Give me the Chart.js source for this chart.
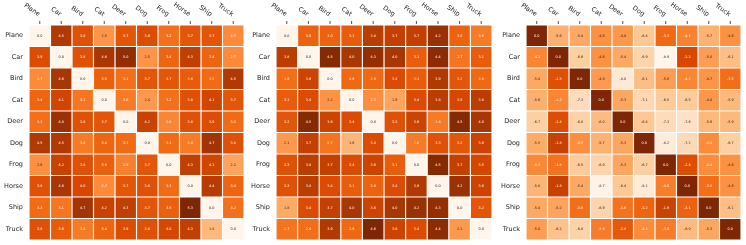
<!DOCTYPE html>
<html>
<head>
<meta charset="utf-8">
<script src="https://cdn.jsdelivr.net/npm/chart.js@4/dist/chart.umd.min.js"></script>
<style>
  body { margin: 0; background: #fff; }
  .wrap { position: absolute; top: 0; height: 245px; }
</style>
</head>
<body>
<div class="wrap" style="left:0;width:248px"><canvas id="heat1"></canvas></div>
<div class="wrap" style="left:248px;width:248px"><canvas id="heat2"></canvas></div>
<div class="wrap" style="left:496px;width:250px"><canvas id="heat3"></canvas></div>
<script>
var classes = ["Plane", "Car", "Bird", "Cat", "Deer", "Dog", "Frog", "Horse", "Ship", "Truck"];

// rows = source class, columns = target class
var heat1Values = [
  [0.0, 4.5, 3.8, 2.5, 3.7, 3.9, 3.2, 3.7, 3.7, 2.7],
  [3.9, 0.0, 3.8, 4.6, 5.0, 2.5, 3.4, 4.3, 3.4, 2.7],
  [2.7, 4.6, 0.0, 3.5, 3.2, 3.7, 3.7, 3.6, 3.3, 4.5],
  [3.4, 4.1, 3.1, 0.0, 3.0, 2.4, 3.2, 3.8, 4.1, 3.7],
  [3.2, 4.8, 3.8, 3.7, 0.0, 4.2, 2.8, 3.8, 3.9, 3.3],
  [4.5, 4.5, 3.0, 3.4, 3.3, 0.0, 3.3, 3.0, 4.7, 3.8],
  [2.6, 4.2, 3.8, 3.5, 2.9, 3.7, 0.0, 4.3, 4.1, 2.2],
  [3.8, 4.6, 4.0, 2.7, 3.7, 3.8, 3.3, 0.0, 4.4, 3.4],
  [3.3, 3.1, 4.7, 4.2, 4.3, 3.7, 3.5, 5.3, 0.0, 3.2],
  [3.8, 3.6, 3.0, 3.4, 3.9, 3.8, 4.0, 4.3, 1.8, 0.0]
];

var heat2Values = [
  [0.0, 3.0, 3.0, 3.1, 3.8, 3.7, 3.7, 4.2, 3.0, 2.6],
  [3.8, 0.0, 4.5, 4.0, 4.3, 4.0, 3.1, 4.4, 2.7, 3.1],
  [2.8, 3.6, 0.0, 2.9, 2.9, 3.4, 3.1, 3.9, 3.2, 2.9],
  [3.1, 3.4, 2.2, 0.0, 2.3, 1.9, 3.4, 3.8, 3.5, 3.8],
  [3.2, 4.5, 3.6, 3.4, 0.0, 3.3, 3.6, 2.6, 4.5, 4.0],
  [2.1, 3.7, 2.7, 1.6, 3.4, 0.0, 2.6, 3.3, 3.2, 3.6],
  [3.3, 3.8, 3.7, 3.4, 3.6, 3.1, 0.0, 4.5, 3.7, 3.5],
  [3.3, 3.8, 3.4, 3.1, 3.0, 3.4, 3.9, 0.0, 4.2, 3.6],
  [1.8, 3.4, 3.7, 4.0, 3.6, 4.0, 4.2, 4.3, 0.0, 3.2],
  [2.7, 2.8, 3.9, 2.9, 4.6, 3.6, 3.4, 4.4, 2.1, 0.0]
];

var heat3Values = [
  [0.0, -5.6, -5.4, -4.6, -4.8, -6.4, -3.3, -4.1, -5.7, -4.6],
  [-4.2, 0.0, -6.6, -4.6, -5.4, -6.9, -8.9, -2.2, -5.0, -6.1],
  [-5.4, -2.5, 0.0, -4.9, -8.0, -6.1, -5.0, -4.2, -4.7, -3.5],
  [-5.6, -4.2, -7.3, 0.0, -5.3, -7.1, -6.5, -6.5, -4.8, -5.9],
  [-6.7, -2.4, -6.8, -6.0, 0.0, -6.4, -7.3, -7.6, -5.9, -5.9],
  [-5.5, -1.8, -4.5, -5.7, -5.3, 0.0, -8.2, -7.2, -4.4, -6.7],
  [-4.3, -3.6, -6.5, -6.9, -5.3, -6.7, 0.0, -2.4, -4.4, -4.6],
  [-5.8, -1.8, -5.4, -8.7, -6.4, -8.1, -4.0, 0.0, -3.5, -4.6],
  [-5.4, -5.2, -3.5, -6.9, -3.6, -3.2, -1.9, -3.1, 0.0, -6.1],
  [-5.0, -6.2, -6.8, -3.9, -2.8, -4.4, -3.9, -6.0, -5.3, 0.0]
];

// matplotlib "Oranges"
var oranges = ["#fff5eb", "#fee6ce", "#fdd0a2", "#fdae6b", "#fd8d3c", "#f16913", "#d94801", "#a63603", "#7f2704"];

function hexToRgb(h) {
  return [parseInt(h.substr(1, 2), 16), parseInt(h.substr(3, 2), 16), parseInt(h.substr(5, 2), 16)];
}

function orangeRgb(t) {
  t = Math.max(0, Math.min(1, t));
  var pos = t * (oranges.length - 1);
  var i = Math.min(Math.floor(pos), oranges.length - 2);
  var f = pos - i;
  var a = hexToRgb(oranges[i]);
  var b = hexToRgb(oranges[i + 1]);
  return [0, 1, 2].map((k) => Math.round(a[k] + (b[k] - a[k]) * f));
}

function luminance(rgb) {
  var c = rgb.map((v) => {
    v = v / 255;
    return v <= 0.03928 ? v / 12.92 : Math.pow((v + 0.055) / 1.055, 2.4);
  });
  return 0.2126 * c[0] + 0.7152 * c[1] + 0.0722 * c[2];
}

var labelFont = "6.5px 'DejaVu Sans'";
var valueFont = "3.4px 'DejaVu Sans'";

var heatLabels = {
  id: "heatLabels",
  afterDraw: function (chart) {
    var ctx = chart.ctx;
    var area = chart.chartArea;
    var xScale = chart.scales.x;
    var yScale = chart.scales.y;
    var values = chart.options.plugins.heatLabels.values;
    var vmin = chart.options.plugins.heatLabels.vmin;
    var vmax = chart.options.plugins.heatLabels.vmax;

    ctx.save();
    // cell values
    ctx.font = valueFont;
    ctx.textAlign = "center";
    ctx.textBaseline = "middle";
    chart.data.datasets.forEach((ds, j) => {
      var meta = chart.getDatasetMeta(j);
      meta.data.forEach((bar, i) => {
        var v = values[i][j];
        var rgb = orangeRgb((v - vmin) / (vmax - vmin));
        ctx.fillStyle = luminance(rgb) > 0.408 ? "#262626" : "#ffffff";
        ctx.fillText(v.toFixed(1), (bar.x + bar.base) / 2, bar.y);
      });
    });

    // row labels
    ctx.font = labelFont;
    ctx.fillStyle = "#262626";
    ctx.textAlign = "right";
    classes.forEach((c, i) => {
      ctx.fillText(c, area.left - 6, yScale.getPixelForValue(i));
    });

    // column ticks and rotated labels
    ctx.strokeStyle = "#262626";
    ctx.lineWidth = 0.8;
    classes.forEach((c, j) => {
      var x = xScale.getPixelForValue(j + 0.5);
      ctx.beginPath();
      ctx.moveTo(x, area.top - 1);
      ctx.lineTo(x, area.top - 4);
      ctx.stroke();
      ctx.save();
      ctx.translate(x - 0.5, area.top - 10);
      ctx.rotate((35 * Math.PI) / 180);
      ctx.textAlign = "right";
      ctx.textBaseline = "middle";
      ctx.fillText(c, 0, 0);
      ctx.restore();
    });
    ctx.restore();
  }
};

function makeHeatmap(id, values, pad) {
  var all = values.flat();
  var vmin = Math.min.apply(null, all);
  var vmax = Math.max.apply(null, all);

  var datasets = classes.map((col, j) => ({
    label: col,
    data: classes.map(() => 1),
    backgroundColor: values.map((row) => {
      var rgb = orangeRgb((row[j] - vmin) / (vmax - vmin));
      return "rgb(" + rgb.join(",") + ")";
    }),
    borderColor: "#ffffff",
    borderWidth: 0.9,
    borderSkipped: false,
    barPercentage: 1,
    categoryPercentage: 1
  }));

  return new Chart(document.getElementById(id), {
    type: "bar",
    data: { labels: classes, datasets: datasets },
    options: {
      indexAxis: "y",
      responsive: true,
      maintainAspectRatio: false,
      animation: false,
      layout: { padding: pad },
      scales: {
        x: { type: "linear", min: 0, max: 10, stacked: true, display: false },
        y: { stacked: true, display: false }
      },
      plugins: {
        legend: { display: false },
        tooltip: { enabled: false },
        heatLabels: { values: values, vmin: vmin, vmax: vmax }
      }
    },
    plugins: [heatLabels]
  });
}

makeHeatmap("heat1", heat1Values, { left: 29, right: 4, top: 25, bottom: 5 });
makeHeatmap("heat2", heat2Values, { left: 28, right: 4, top: 25, bottom: 5 });
makeHeatmap("heat3", heat3Values, { left: 30, right: 5, top: 25, bottom: 5 });
</script>
</body>
</html>
